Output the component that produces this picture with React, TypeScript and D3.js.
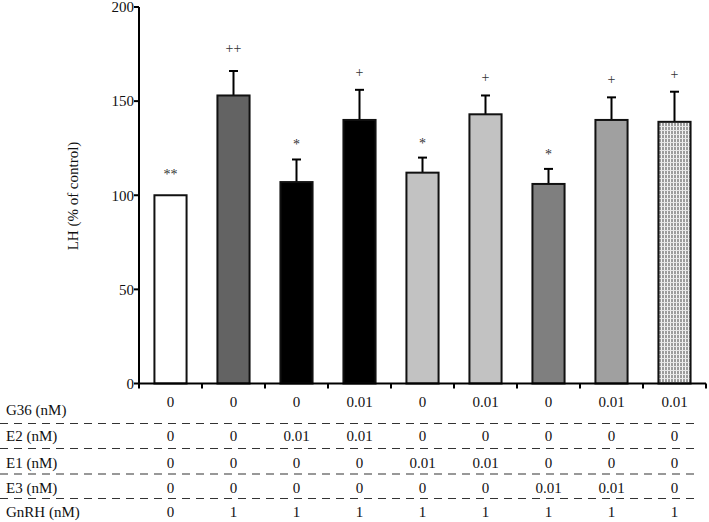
import React from "react";
import * as d3 from "d3";

const groups = ["g1", "g2", "g3", "g4", "g5", "g6", "g7", "g8", "g9"];
const means = [100, 153, 107, 140, 112, 143, 106, 140, 139];
const errors = [0, 13, 12, 16, 8, 10, 8, 12, 16];
const annotations = ["**", "++", "*", "+", "*", "+", "*", "+", "+"];
const yTicks = [0, 50, 100, 150, 200];

const rowLabels = ["G36 (nM)", "E2 (nM)", "E1 (nM)", "E3 (nM)", "GnRH (nM)"];
const g36 = ["0", "0", "0", "0.01", "0", "0.01", "0", "0.01", "0.01"];
const e2 = ["0", "0", "0.01", "0.01", "0", "0", "0", "0", "0"];
const e1 = ["0", "0", "0", "0", "0.01", "0.01", "0", "0", "0"];
const e3 = ["0", "0", "0", "0", "0", "0", "0.01", "0.01", "0"];
const gnrh = ["0", "1", "1", "1", "1", "1", "1", "1", "1"];
const rows = [g36, e2, e1, e3, gnrh];

const fills = ["#ffffff", "#636363", "#000000", "#000000", "#c2c2c2", "#c2c2c2", "#7f7f7f", "#a0a0a0", "url(#hatch)"];

const W = 709;
const H = 522;
const X0 = 139;
const X1 = 706;
const Y0 = 383.5;
const Y1 = 7;
const FONT = "'Liberation Serif', 'Times New Roman', serif";

export default function App() {
  const x = d3.scaleBand<string>().domain(groups).range([X0, X1]).paddingInner(0.49).paddingOuter(0.245);
  const y = d3.scaleLinear().domain([0, 200]).range([Y0, Y1]);
  const step = x.step();
  const bw = x.bandwidth();

  const valueBaselines = [407, 441, 468, 493, 517];
  const labelBaselines = [415, 441, 468, 493, 517];
  const dashYs = [423.5, 448.5, 474, 498.5];

  return (
    <div style={{ position: "absolute", left: 0, top: 0 }}>
      <svg width={W} height={H} style={{ display: "block", background: "#fff" }} fontFamily={FONT}>
        <defs>
          <pattern id="hatch" width="3" height="4" patternUnits="userSpaceOnUse">
            <rect width="3" height="4" fill="#9c9c9c" />
            <rect x="1" y="0" width="1" height="4" fill="#f4f4f4" />
            <rect x="0" y="2" width="3" height="1" fill="#e6e6e6" />
          </pattern>
        </defs>

        {/* bars */}
        {groups.map((g, i) => {
          const cx = (x(g) as number) + bw / 2;
          const top = y(means[i]);
          const errTop = y(means[i] + errors[i]);
          return (
            <g key={g}>
              {errors[i] > 0 && (
                <g stroke="#000" strokeWidth={2}>
                  <line x1={cx} x2={cx} y1={top} y2={errTop} />
                  <line x1={cx - 4.5} x2={cx + 4.5} y1={errTop} y2={errTop} />
                </g>
              )}
              <rect
                x={x(g) as number}
                y={top}
                width={bw}
                height={Y0 - top}
                fill={fills[i]}
                stroke="#111"
                strokeWidth={2}
              />
              <text
                x={cx}
                y={errTop - (annotations[i].includes("*") ? (errors[i] > 0 ? 10 : 16) : annotations[i] === "++" ? 18 : 13)}
                textAnchor="middle"
                fontSize={14}
                fill="#333"
              >
                {annotations[i]}
              </text>
            </g>
          );
        })}

        {/* y axis */}
        <line x1={X0} x2={X0} y1={Y0} y2={Y1} stroke="#000" strokeWidth={2} />
        {yTicks.map((t) => (
          <g key={t}>
            <line x1={X0 - 5} x2={X0} y1={y(t)} y2={y(t)} stroke="#000" strokeWidth={2} />
            <text x={X0 - 5} y={y(t)} dy="0.35em" textAnchor="end" fontSize={15} fill="#111">
              {t}
            </text>
          </g>
        ))}
        <text
          transform={`translate(78,196) rotate(-90)`}
          textAnchor="middle"
          fontSize={15}
          fill="#111"
        >
          LH (% of control)
        </text>

        {/* x axis */}
        <line x1={X0} x2={X1} y1={Y0} y2={Y0} stroke="#000" strokeWidth={2} />
        {d3.range(groups.length + 1).map((k) => (
          <line key={k} x1={X0 + k * step} x2={X0 + k * step} y1={Y0} y2={Y0 + 5} stroke="#000" strokeWidth={2} />
        ))}

        {/* table */}
        {rowLabels.map((lab, r) => (
          <text key={lab} x={6} y={labelBaselines[r]} fontSize={15} fill="#111">
            {lab}
          </text>
        ))}
        {rows.map((row, r) =>
          row.map((v, i) => (
            <text
              key={`${r}-${i}`}
              x={(x(groups[i]) as number) + bw / 2}
              y={valueBaselines[r]}
              textAnchor="middle"
              fontSize={15}
              fill="#111"
            >
              {v}
            </text>
          ))
        )}
        {dashYs.map((dy) => (
          <line key={dy} x1={0} x2={699} y1={dy} y2={dy} stroke="#333" strokeWidth={1.2} strokeDasharray="8,6" />
        ))}
      </svg>
    </div>
  );
}
